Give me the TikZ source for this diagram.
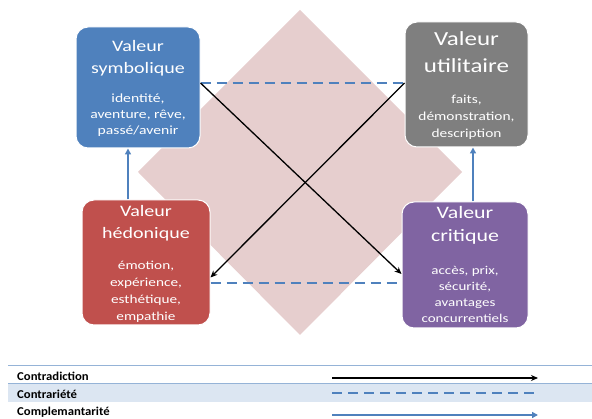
\documentclass[tikz,border=0pt]{standalone}
\usepackage{fontspec}
\setmainfont{Carlito}[FakeStretch=1.25]
\newfontfamily\legfont{Carlito}[FakeStretch=1.06]
\usetikzlibrary{arrows.meta,calc}
\definecolor{cblue}{RGB}{79,129,189}
\definecolor{cgray}{RGB}{127,127,127}
\definecolor{cred}{RGB}{192,80,77}
\definecolor{cpurple}{RGB}{128,100,162}
\definecolor{cdiam}{RGB}{230,206,206}
\definecolor{lline}{RGB}{149,179,215}
\definecolor{lband}{RGB}{220,230,242}
\tikzset{
  box/.style={rounded corners=12pt, draw=white, line width=1pt, inner sep=0pt},
  ttl/.style={text=white, align=center, inner sep=0pt},
  contra/.style={black, line width=1.3pt, -{Stealth[length=7pt,width=6pt]}},
  contrar/.style={cblue, line width=2.3pt, dash pattern=on 10pt off 6pt},
  compl/.style={cblue, line width=1.8pt, -{Triangle[length=6pt,width=6pt]}},
  legtxt/.style={anchor=west, inner sep=0pt, font=\legfont\bfseries\fontsize{12}{14}\selectfont},
}
\begin{document}
\begin{tikzpicture}[x=1pt,y=-1pt]
\useasboundingbox (0,0) rectangle (592,419);
% diamond
\fill[cdiam] (300,10) -- (462,172) -- (300,335) -- (138,172) -- cycle;
% boxes
\node[box,fill=cblue,minimum width=124pt,minimum height=121pt] (sym) at (138,87.5) {};
\node[box,fill=cgray,minimum width=123pt,minimum height=125pt] (util) at (466.5,84.5) {};
\node[box,fill=cred,minimum width=128pt,minimum height=125pt] (hedo) at (146,262.5) {};
\node[box,fill=cpurple,minimum width=126pt,minimum height=126pt] (crit) at (465,265) {};
% texts
\node[ttl,font=\fontsize{16}{22}\selectfont] (symt) at (138,58) {Valeur\\symbolique};
\node[ttl,font=\fontsize{12.5}{16}\selectfont] (syms) at (138,115) {identité,\\aventure, rêve,\\passé/avenir};
\node[ttl,font=\fontsize{20}{27}\selectfont] (utilt) at (466.5,52) {Valeur\\utilitaire};
\node[ttl,font=\fontsize{12.3}{17}\selectfont] (utils) at (466.5,117) {faits,\\démonstration,\\description};
\node[ttl,font=\fontsize{16}{22}\selectfont] (hedot) at (146,223) {Valeur\\hédonique};
\node[ttl,font=\fontsize{12.2}{17}\selectfont] (hedos) at (146,292) {émotion,\\expérience,\\esthétique,\\empathie};
\node[ttl,font=\fontsize{17.5}{23}\selectfont] (critt) at (465,225) {Valeur\\critique};
\node[ttl,font=\fontsize{12}{16}\selectfont] (crits) at (465,294) {accès, prix,\\sécurité,\\avantages\\concurrentiels};
% contrariété (dashed)
\draw[contrar] ([yshift=4.5pt]sym.east) -- ([yshift=4.5pt]sym.east -| util.west);
\draw[contrar] ([yshift=-20.5pt]hedo.east) -- ([yshift=-20.5pt]hedo.east -| crit.west);
% contradiction (black)
\draw[contra] ([yshift=4.5pt]sym.east) -- ([yshift=-9pt]crit.west);
\draw[contra] ([yshift=1.5pt]util.west) -- ([yshift=-15pt]hedo.east);
% complémentarité (blue)
\draw[compl] ([xshift=-18pt]hedo.north) -- ([xshift=-18pt]hedo.north |- sym.south);
\draw[compl] ([xshift=8pt]crit.north) -- ([xshift=8pt]crit.north |- util.south);
% legend
\fill[lband] (8,384) rectangle (592,402);
\draw[lline, line width=1pt] (8,366) -- (592,366);
\draw[lline, line width=1pt] (8,384) -- (592,384);
\node[legtxt] (l1) at (17,376.5) {Contradiction};
\node[legtxt] (l2) at (17,394) {Contrariété};
\node[legtxt] (l3) at (17,412.5) {Complemantarité};
\coordinate (a1) at (332,378); \coordinate (b1) at (538,378);
\coordinate (a2) at (332,393); \coordinate (b2) at (538,393);
\coordinate (a3) at (332,415); \coordinate (b3) at (538,415);
\draw[contra] (a1) -- (b1);
\draw[contrar] (a2) -- (b2);
\draw[compl] (a3) -- (b3);
\end{tikzpicture}
\end{document}
